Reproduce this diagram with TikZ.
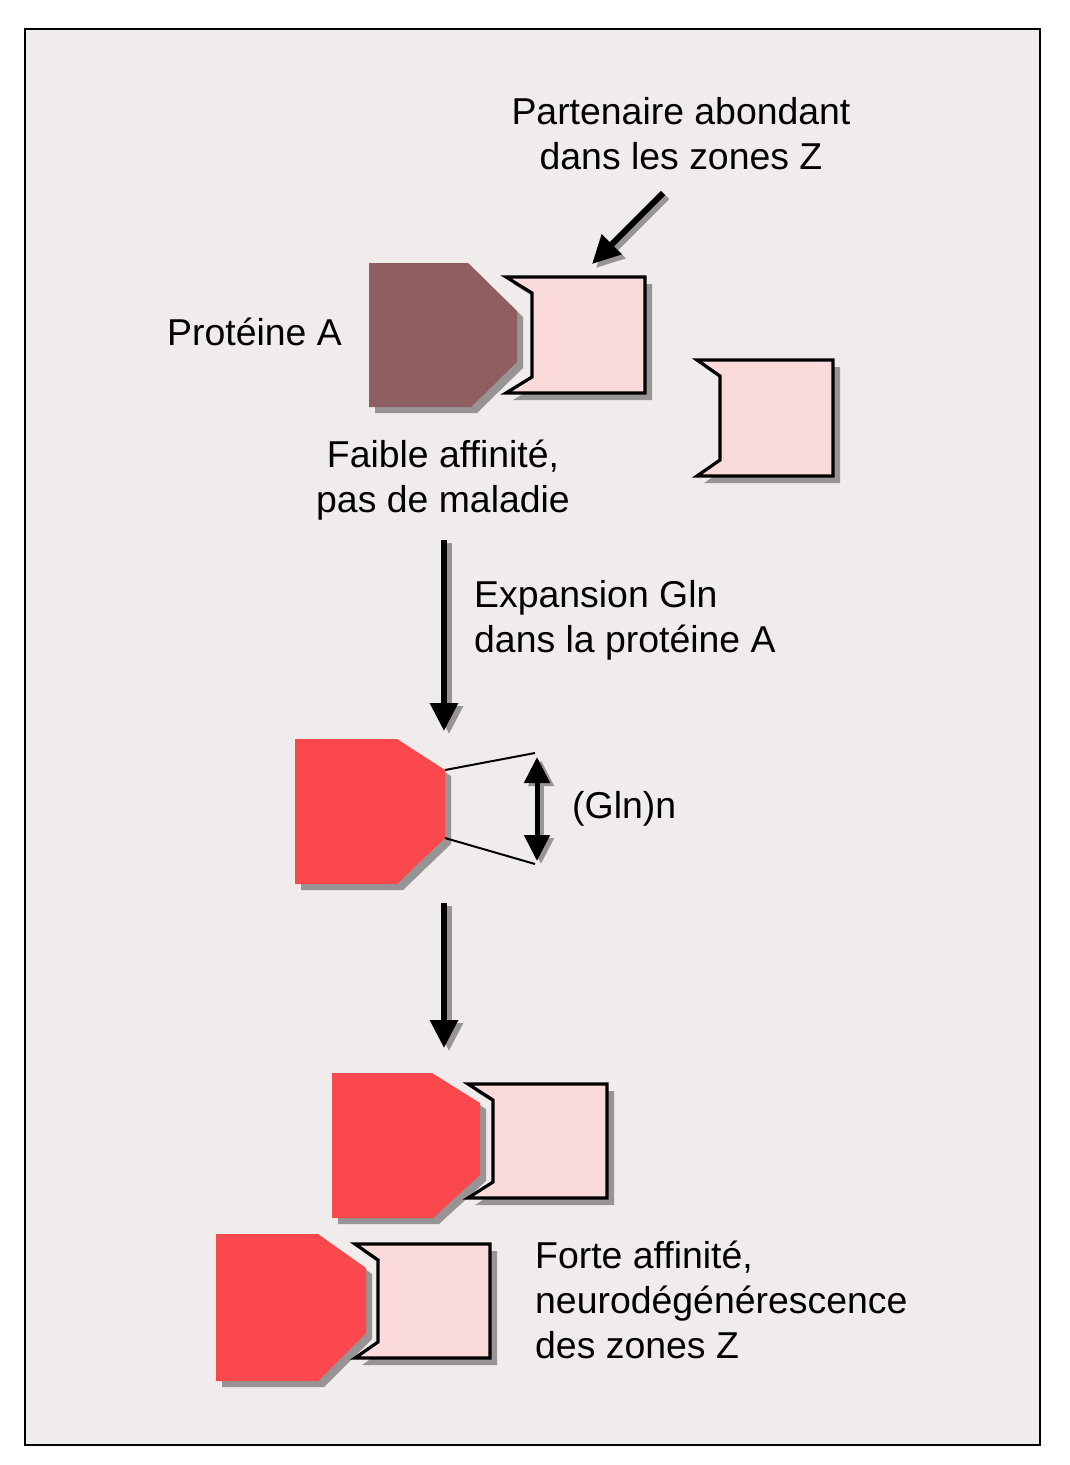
\documentclass[tikz,border=0pt]{standalone}
\usepackage{fontspec}
\setmainfont{Liberation Sans}
\usetikzlibrary{arrows.meta}
\definecolor{bgc}{RGB}{241,236,236}
\definecolor{brownA}{RGB}{142,94,97}
\definecolor{redA}{RGB}{250,72,76}
\definecolor{pinkA}{RGB}{250,218,218}
\definecolor{shd}{RGB}{150,148,148}
\newcommand\protshape[9]{%
  \fill[shd] ({#2+6},{#3+6}) -- ({#4+6},{#3+6}) -- ({#5+6},{#6+6}) -- ({#5+6},{#7+6}) -- ({#9+6},{#8+6}) -- ({#2+6},{#8+6}) -- cycle;
  \fill[#1] (#2,#3) -- (#4,#3) -- (#5,#6) -- (#5,#7) -- (#9,#8) -- (#2,#8) -- cycle;}
\newcommand\partnerbox[5]{%
  \fill[shd] ({#1+7},{#2+7}) -- ({#3+7},{#2+7}) -- ({#3+7},{#4+7}) -- ({#1+7},{#4+7}) -- ({#5+7},{#4-16+7}) -- ({#5+7},{#2+16+7}) -- cycle;
  \draw[partner] (#1,#2) -- (#3,#2) -- (#3,#4) -- (#1,#4) -- (#5,{#4-16}) -- (#5,{#2+16}) -- cycle;}
\begin{document}
\begin{tikzpicture}[x=1pt,y=-1pt,
  lbl/.style={inner sep=0pt,font=\fontsize{37.4}{45}\selectfont},
  partner/.style={fill=pinkA,draw=black,line width=3.2pt,line join=miter},
  bigarrow/.style={line width=6pt,-{Triangle[width=27pt,length=28pt]}},
  shadarrow/.style={line width=6pt,draw=shd,-{Triangle[width=27pt,length=28pt]}},
  dblarrow/.style={line width=5pt,{Triangle[width=25pt,length=26pt]}-{Triangle[width=25pt,length=26pt]}},
  dblshad/.style={line width=5pt,draw=shd,{Triangle[width=25pt,length=26pt]}-{Triangle[width=25pt,length=26pt]}},
  glnline/.style={line width=2pt}]
\useasboundingbox (0,0) rectangle (1069,1465);
\fill[white] (0,0) rectangle (1069,1465);
\draw[fill=bgc,line width=2pt] (25,29) rectangle (1040,1445);

% texts
\node[lbl,anchor=base] (tpart) at (681,124) {\begin{tabular}[t]{@{}c@{}}Partenaire abondant\\dans les zones Z\end{tabular}};
\node[lbl,anchor=base west] (tprot) at (167,345) {Protéine A};
\node[lbl,anchor=base] (tfaible) at (443,467) {\begin{tabular}[t]{@{}c@{}}Faible affinité,\\pas de maladie\end{tabular}};
\node[lbl,anchor=base west] (texp) at (474,607) {\begin{tabular}[t]{@{}l@{}}Expansion Gln\\dans la protéine A\end{tabular}};
\node[lbl,anchor=base west] (tgln) at (572,818) {(Gln)n};
\node[lbl,anchor=base west] (tforte) at (535,1268) {\begin{tabular}[t]{@{}l@{}}Forte affinité,\\neurodégénérescence\\des zones Z\end{tabular}};

% top row
\protshape{brownA}{369}{263}{468}{517}{311}{362}{407}{471}
\partnerbox{506}{277}{645}{393}{532}
\partnerbox{697}{360}{833}{476}{720}

% partner arrow
\coordinate (pa1) at (663,193);
\coordinate (pa2) at (592,264);
\draw[shadarrow] ([shift={(4,4)}]pa1) -- ([shift={(4,4)}]pa2);
\draw[bigarrow] (pa1) -- (pa2);

% first down arrow
\coordinate (d1a) at (444,540);
\coordinate (d1b) at (444,731);
\draw[shadarrow] ([shift={(5,3)}]d1a) -- ([shift={(5,3)}]d1b);
\draw[bigarrow] (d1a) -- (d1b);

% middle shape
\protshape{redA}{295}{739}{397}{445}{770}{838}{884}{397}
\coordinate (m1) at (445,770);
\coordinate (m2) at (445,838);
\coordinate (g1) at (535,753);
\coordinate (g2) at (535,864);
\draw[glnline] (m1) -- (g1);
\draw[glnline] (m2) -- (g2);
\coordinate (da) at (537,757);
\coordinate (db) at (537,861);
\draw[dblshad] ([shift={(4,3)}]da) -- ([shift={(4,3)}]db);
\draw[dblarrow] (da) -- (db);

% second down arrow
\coordinate (d2a) at (444,903);
\coordinate (d2b) at (444,1048);
\draw[shadarrow] ([shift={(5,3)}]d2a) -- ([shift={(5,3)}]d2b);
\draw[bigarrow] (d2a) -- (d2b);

% bottom pairs
\protshape{redA}{332}{1073}{432}{480}{1103}{1175}{1218}{433}
\partnerbox{468}{1084}{607}{1198}{493}
\protshape{redA}{216}{1234}{318}{366}{1268}{1333}{1381}{318}
\partnerbox{355}{1244}{490}{1358}{378}
\end{tikzpicture}
\end{document}
